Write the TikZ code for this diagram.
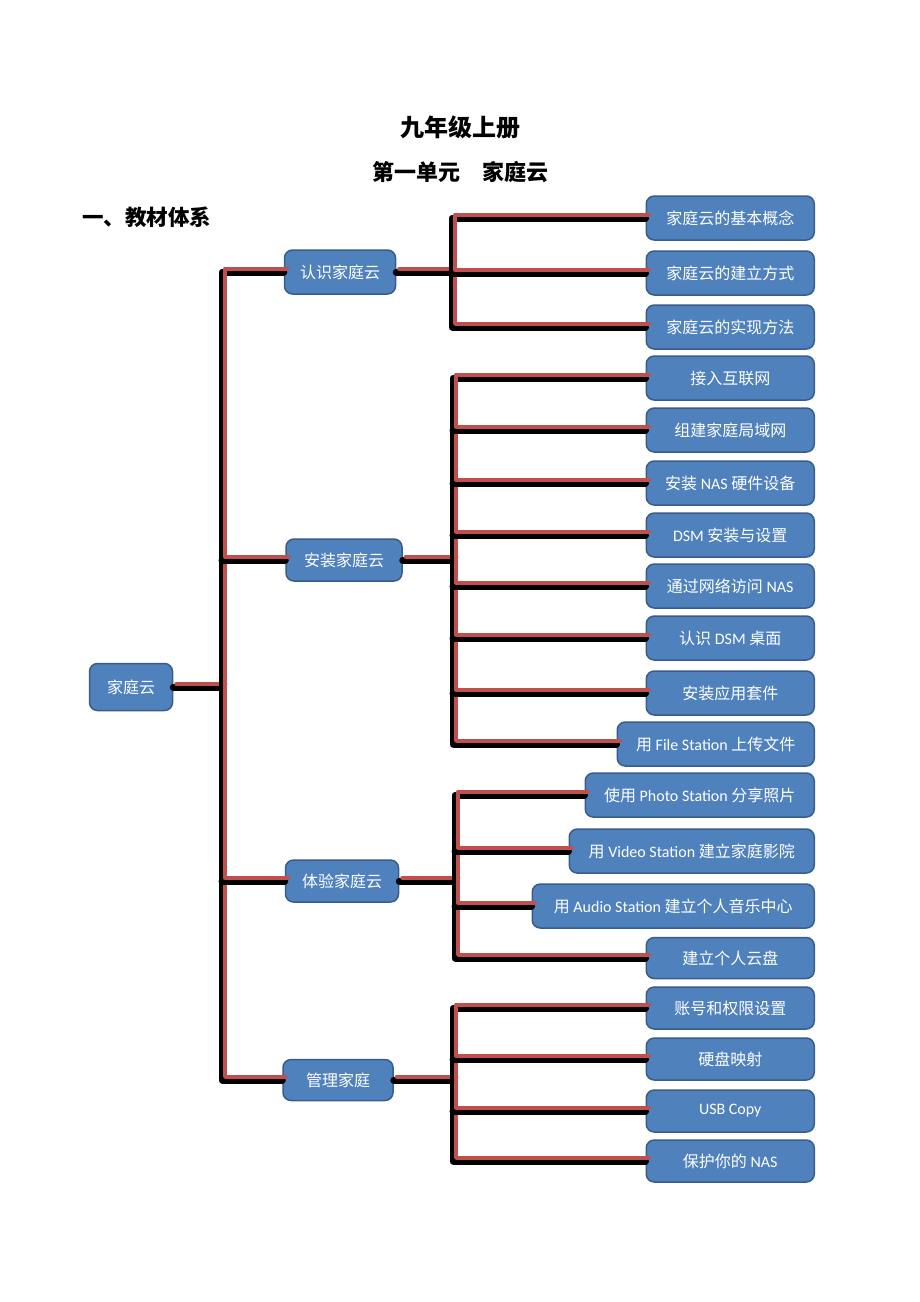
\documentclass[tikz,border=0pt]{standalone}
\usepackage{fontspec}
\setmainfont{Noto Sans CJK SC}
\newfontfamily\lat{Carlito}
\definecolor{boxfill}{HTML}{4F81BD}
\definecolor{boxborder}{HTML}{385D8A}
\definecolor{linkred}{HTML}{C0504D}
\newcommand\link[1]{\draw[blk] #1; \draw[rdl] #1;}
\begin{document}
\begin{tikzpicture}[x=1pt,y=-1pt,
 box/.style={draw=boxborder, line width=1.5pt, fill=boxfill, rounded corners=8pt, text=white,
   font=\fontsize{16}{19}\selectfont, minimum height=44pt, inner xsep=8pt},
 leaf/.style={box, anchor=east, minimum width=168pt},
 blk/.style={line width=7pt, black, line cap=round, line join=round},
 rdl/.style={line width=4.5pt, linkred, line cap=round, line join=round,
   transform canvas={xshift=3.2pt,yshift=3.2pt}}]
\useasboundingbox (0,0) rectangle (920,1302);
% titles
\node[font=\bfseries\fontsize{24}{28}\selectfont] (ttl) at (460,127) {九年级上册};
\node[font=\bfseries\fontsize{22}{26}\selectfont] (sub) at (460,172) {第一单元\quad 家庭云};
\node[font=\bfseries\fontsize{21.5}{25}\selectfont, anchor=west, inner sep=0pt] (hd) at (82,217) {一、教材体系};
% main nodes
\node[box, minimum width=83pt, minimum height=47pt] (root) at (131,687) {家庭云};
\node[box, minimum width=111pt] (a) at (340,272) {认识家庭云};
\node[box, minimum width=116pt, minimum height=42pt] (b) at (344,560) {安装家庭云};
\node[box, minimum width=113pt, minimum height=42pt] (c) at (342,881) {体验家庭云};
\node[box, minimum width=110pt, minimum height=41pt] (d) at (338,1080) {管理家庭};
% leaves
\node[leaf] (a1) at (815,218) {家庭云的基本概念};
\node[leaf] (a2) at (815,273) {家庭云的建立方式};
\node[leaf] (a3) at (815,327) {家庭云的实现方法};
\node[leaf] (b1) at (815,378) {接入互联网};
\node[leaf] (b2) at (815,430) {组建家庭局域网};
\node[leaf] (b3) at (815,483) {安装 {\lat NAS} 硬件设备};
\node[leaf] (b4) at (815,535) {{\lat DSM} 安装与设置};
\node[leaf] (b5) at (815,586) {通过网络访问 {\lat NAS}};
\node[leaf] (b6) at (815,638) {认识 {\lat DSM} 桌面};
\node[leaf] (b7) at (815,693) {安装应用套件};
\node[leaf, minimum width=197pt] (b8) at (815,744) {用 {\lat File Station} 上传文件};
\node[leaf, minimum width=229pt] (c1) at (815,795) {使用 {\lat Photo Station} 分享照片};
\node[leaf, minimum width=245pt] (c2) at (815,851) {用 {\lat Video Station} 建立家庭影院};
\node[leaf, minimum width=282pt] (c3) at (815,906) {用 {\lat Audio Station} 建立个人音乐中心};
\node[leaf, minimum height=41pt] (c4) at (815,958) {建立个人云盘};
\node[leaf, minimum height=42pt] (d1) at (815,1008) {账号和权限设置};
\node[leaf, minimum height=42pt] (d2) at (815,1059) {硬盘映射};
\node[leaf, minimum height=42pt] (d3) at (815,1111) {{\lat USB Copy}};
\node[leaf, minimum height=42pt] (d4) at (815,1161) {保护你的 {\lat NAS}};
% trunk coordinates
\coordinate (t0) at (222,0);
\coordinate (t1) at (452,0);
\coordinate (t2) at (453,0);
\coordinate (t3) at (455,0);
\coordinate (t4) at (453,0);
% root level
\link{(root.east) -- (root.east -| t0)}
\link{(a.west) -| (t0 |- d.west) -- (d.west)}
\link{(b.west) -- (b.west -| t0)}
\link{(c.west) -- (c.west -| t0)}
% group 1
\link{(a.east) -- (a.east -| t1)}
\link{(a1.west) -| (t1 |- a3.west) -- (a3.west)}
\link{(t1 |- a2.west) -- (a2.west)}
% group 2
\link{(b.east) -- (b.east -| t2)}
\link{(b1.west) -| (t2 |- b8.west) -- (b8.west)}
\foreach \n in {b2,b3,b4,b5,b6,b7}{\link{(t2 |- \n.west) -- (\n.west)}}
% group 3
\link{(c.east) -- (c.east -| t3)}
\link{(c1.west) -| (t3 |- c4.west) -- (c4.west)}
\foreach \n in {c2,c3}{\link{(t3 |- \n.west) -- (\n.west)}}
% group 4
\link{(d.east) -- (d.east -| t4)}
\link{(d1.west) -| (t4 |- d4.west) -- (d4.west)}
\foreach \n in {d2,d3}{\link{(t4 |- \n.west) -- (\n.west)}}
\end{tikzpicture}
\end{document}
